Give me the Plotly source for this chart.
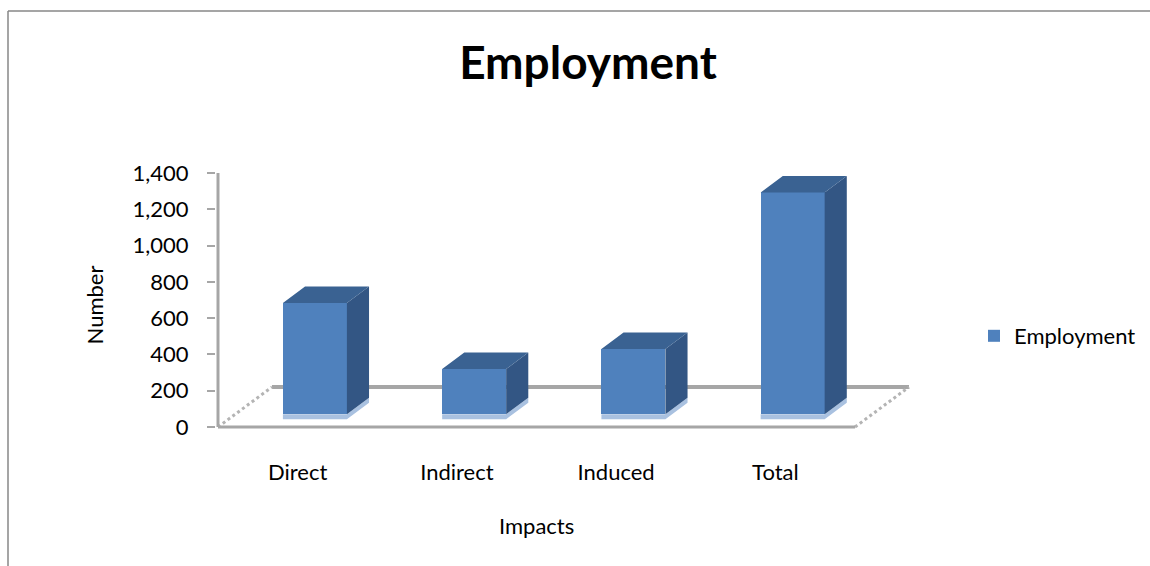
import plotly.graph_objects as go

# ---- data ----
categories = ["Direct", "Indirect", "Induced", "Total"]
employment = [613, 249, 360, 1222]
y_tickvals = [0, 200, 400, 600, 800, 1000, 1200, 1400]
y_ticktext = ["0", "200", "400", "600", "800", "1,000", "1,200", "1,400"]

# ---- geometry / style ----
W_PX, H_PX = 1150, 566
PLOT_L, PLOT_R, PLOT_T, PLOT_B = 216, 918, 173, 437
X0_PX, CAT_PX = 218, 159.25          # px of x=0, px per category
Y0_PX, YMAX = 427, 1400              # px of y=0
PX_PER_UNIT = (Y0_PX - PLOT_T) / YMAX
DX = 54 / CAT_PX                     # floor depth offset (x units)
DY = 40 / PX_PER_UNIT                # floor depth offset (y units)
F1, F2 = 0.32, 0.73                  # bar depth start / end fractions
BAR_W = 64 / CAT_PX
STRIP = 5 / PX_PER_UNIT

FRONT = "#4F81BD"
SIDE = "#335684"
TOP = "#3A6292"
LIGHT = "#A9C1E0"
GREY = "#A6A6A6"
FONT = "Lato"

x_range = [(PLOT_L - X0_PX) / CAT_PX, (PLOT_R - X0_PX) / CAT_PX]
y_range = [-(PLOT_B - Y0_PX) / PX_PER_UNIT, YMAX]

n = len(categories)
xc = [i + 0.5 + F1 * DX for i in range(n)]
base = F1 * DY
ddx, ddy = (F2 - F1) * DX, (F2 - F1) * DY

fig = go.Figure()
fig.add_trace(go.Bar(x=xc, y=employment, base=[base] * n, width=BAR_W,
                     marker=dict(color=FRONT, line=dict(width=0)),
                     name="Employment", hoverinfo="skip"))

side_x, side_y, top_x, top_y, str_x, str_y = [], [], [], [], [], []
for c, v in zip(xc, employment):
    xl, xr = c - BAR_W / 2, c + BAR_W / 2
    side_x += [xr, xr, xr + ddx, xr + ddx, xr, None]
    side_y += [base, base + v, base + v + ddy, base + ddy, base, None]
    top_x += [xl, xr, xr + ddx, xl + ddx, xl, None]
    top_y += [base + v, base + v, base + v + ddy, base + v + ddy, base + v, None]
    str_x += [xl, xr, xr + ddx, xr + ddx, xr, xl, xl, None]
    str_y += [base - STRIP, base - STRIP, base + ddy - STRIP, base + ddy, base, base, base - STRIP, None]

for xs, ys, col in [(str_x, str_y, LIGHT), (side_x, side_y, SIDE), (top_x, top_y, TOP)]:
    fig.add_trace(go.Scatter(x=xs, y=ys, mode="lines", fill="toself", fillcolor=col,
                             line=dict(width=0, color=col), showlegend=False,
                             hoverinfo="skip"))

shapes = [
    # floor back edge
    dict(type="line", xref="x", yref="y", x0=DX, y0=DY, x1=n + DX, y1=DY,
         line=dict(color=GREY, width=4), layer="below"),
    # floor side edges
    dict(type="line", xref="x", yref="y", x0=0, y0=0, x1=DX, y1=DY,
         line=dict(color="#B4B4B4", width=3, dash="dot"), layer="below"),
    dict(type="line", xref="x", yref="y", x0=n, y0=0, x1=n + DX, y1=DY,
         line=dict(color="#B4B4B4", width=3, dash="dot"), layer="below"),
    # floor front edge
    dict(type="line", xref="x", yref="y", x0=0, y0=0, x1=n, y1=0,
         line=dict(color=GREY, width=3), layer="below"),
    # value axis line
    dict(type="line", xref="x", yref="y", x0=0, y0=0, x1=0, y1=YMAX,
         line=dict(color=GREY, width=3), layer="above"),
]
pw, ph = PLOT_R - PLOT_L, PLOT_B - PLOT_T
# chart border (top and left edges visible)
shapes.append(dict(type="line", xref="paper", yref="paper",
                   x0=(8 - PLOT_L) / pw, x1=(W_PX + 20 - PLOT_L) / pw,
                   y0=(PLOT_B - 11) / ph, y1=(PLOT_B - 11) / ph,
                   line=dict(color="#878787", width=1.5)))
shapes.append(dict(type="line", xref="paper", yref="paper",
                   x0=(8 - PLOT_L) / pw, x1=(8 - PLOT_L) / pw,
                   y0=(PLOT_B - 11) / ph, y1=(PLOT_B - H_PX - 20) / ph,
                   line=dict(color="#878787", width=1.5)))

fig.update_layout(
    width=W_PX, height=H_PX,
    margin=dict(l=PLOT_L, r=W_PX - PLOT_R, t=PLOT_T, b=H_PX - PLOT_B, autoexpand=False),
    paper_bgcolor="white", plot_bgcolor="white",
    font=dict(family=FONT, size=22, color="black"),
    title=dict(text="<b>Employment</b>", x=588 / W_PX, xanchor="center",
               y=1 - 63 / H_PX, yanchor="middle", yref="container",
               font=dict(family=FONT, size=46, color="black")),
    shapes=shapes,
    annotations=[dict(text="Impacts", xref="x", x=n / 2, yref="paper",
                      y=(PLOT_B - 525) / ph, xanchor="center", yanchor="middle",
                      showarrow=False, font=dict(size=22))],
    showlegend=True,
    legend=dict(x=(974 - PLOT_L) / pw, xanchor="left", y=(PLOT_B - 336) / ph,
                yanchor="middle", font=dict(size=22), bgcolor="rgba(0,0,0,0)"),
    bargap=0,
)
fig.update_xaxes(range=x_range, tickvals=[i + 0.5 for i in range(n)], ticktext=categories,
                 showgrid=False, zeroline=False, showline=False, ticks="",
                 ticklabelstandoff=20)
fig.update_yaxes(range=y_range, tickvals=y_tickvals, ticktext=y_ticktext,
                 showgrid=False, zeroline=False, showline=False,
                 ticks="outside", ticklen=8, tickwidth=2, tickcolor=GREY,
                 ticklabelstandoff=14,
                 title=dict(text="Number", standoff=22, font=dict(size=22)))

fig.write_html("out.html", config={"displayModeBar": False},
               post_script="document.body.style.margin='0px';")
